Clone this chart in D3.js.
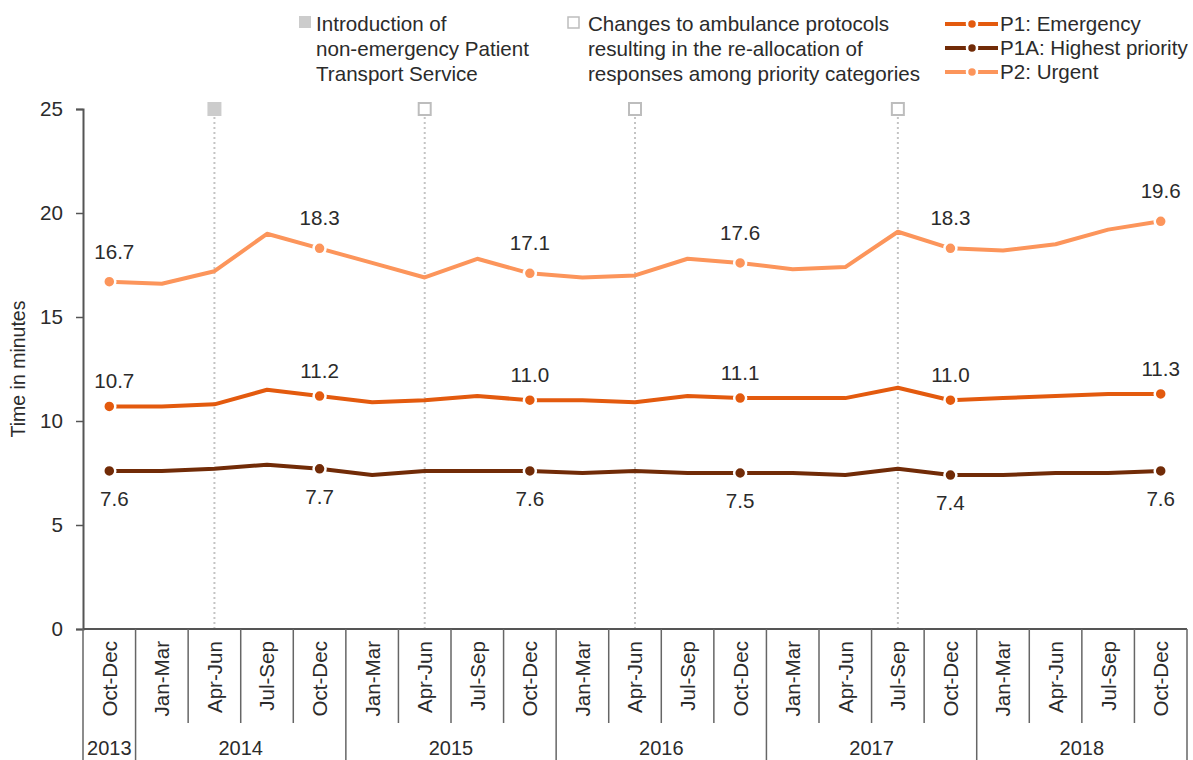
<!DOCTYPE html>
<html>
<head>
<meta charset="utf-8">
<script src="https://cdn.jsdelivr.net/npm/d3@7"></script>
<style>
  body { margin: 0; background: #fff; }
  svg text { font-family: "Liberation Sans", Arial, sans-serif; fill: #2b2b2b; }
</style>
</head>
<body>
<div id="chart"></div>
<script>
// Quarters along the x axis, with the year each belongs to
const quarterLabels = ["Oct-Dec",
  "Jan-Mar", "Apr-Jun", "Jul-Sep", "Oct-Dec",
  "Jan-Mar", "Apr-Jun", "Jul-Sep", "Oct-Dec",
  "Jan-Mar", "Apr-Jun", "Jul-Sep", "Oct-Dec",
  "Jan-Mar", "Apr-Jun", "Jul-Sep", "Oct-Dec",
  "Jan-Mar", "Apr-Jun", "Jul-Sep", "Oct-Dec"];
const quarterYears = ["2013",
  "2014", "2014", "2014", "2014",
  "2015", "2015", "2015", "2015",
  "2016", "2016", "2016", "2016",
  "2017", "2017", "2017", "2017",
  "2018", "2018", "2018", "2018"];

// Response times in minutes
const p1 = [10.7, 10.7, 10.8, 11.5, 11.2, 10.9, 11.0, 11.2, 11.0, 11.0, 10.9,
  11.2, 11.1, 11.1, 11.1, 11.6, 11.0, 11.1, 11.2, 11.3, 11.3];
const p1a = [7.6, 7.6, 7.7, 7.9, 7.7, 7.4, 7.6, 7.6, 7.6, 7.5, 7.6,
  7.5, 7.5, 7.5, 7.4, 7.7, 7.4, 7.4, 7.5, 7.5, 7.6];
const p2 = [16.7, 16.6, 17.2, 19.0, 18.3, 17.6, 16.9, 17.8, 17.1, 16.9, 17.0,
  17.8, 17.6, 17.3, 17.4, 19.1, 18.3, 18.2, 18.5, 19.2, 19.6];

const seriesNames = ["P1: Emergency", "P1A: Highest priority", "P2: Urgent"];
const yTicks = [0, 5, 10, 15, 20, 25];

// Points that get a value label
const labelled = [0, 4, 8, 12, 16, 20];

// Event markers: quarter index and kind
const eventIdx = [2, 6, 10, 15];
const eventKind = ["pts", "protocol", "protocol", "protocol"];
const eventNotes = [
  ["Introduction of", "non-emergency Patient", "Transport Service"],
  ["Changes to ambulance protocols", "resulting in the re-allocation of", "responses among priority categories"]
];

const colors = ["#e35a0e", "#712b07", "#fc955b"];
const FS = "20.6px";

const W = 1193, H = 760;
const margin = { left: 83, right: 6, top: 109, bottom: 131 };

const svg = d3.select("#chart").append("svg")
  .attr("width", W).attr("height", H);

const x = d3.scaleBand()
  .domain(d3.range(quarterLabels.length))
  .range([margin.left, W - margin.right]);
const y = d3.scaleLinear()
  .domain([0, 25])
  .range([H - margin.bottom, margin.top]);

const cx = i => x(i) + x.bandwidth() / 2;
const y0 = y(0);

// event dotted lines and markers
eventIdx.forEach((idx, k) => {
  svg.append("line")
    .attr("x1", cx(idx)).attr("x2", cx(idx))
    .attr("y1", y(25) + 8).attr("y2", y0)
    .attr("stroke", "#c4c4c4")
    .attr("stroke-width", 2)
    .attr("stroke-dasharray", "2,3");
  const filled = eventKind[k] === "pts";
  svg.append("rect")
    .attr("x", cx(idx) - (filled ? 7 : 6)).attr("y", y(25) - (filled ? 7 : 6))
    .attr("width", filled ? 14 : 12).attr("height", filled ? 14 : 12)
    .attr("fill", filled ? "#cccccc" : "#fff")
    .attr("stroke", filled ? "none" : "#bdbdbd")
    .attr("stroke-width", 2);
});

// y axis
const yAxisG = svg.append("g")
  .attr("transform", `translate(${margin.left},0)`)
  .call(d3.axisLeft(y).tickValues(yTicks).tickSize(7).tickPadding(13));
yAxisG.select(".domain").attr("stroke", "#555").attr("stroke-width", 2);
yAxisG.selectAll(".tick line").attr("stroke", "#555").attr("stroke-width", 1.5);
yAxisG.selectAll(".tick text")
  .style("font-size", FS)
  .style("font-family", "Liberation Sans, Arial, sans-serif")
  .attr("fill", "#2b2b2b");

svg.append("text")
  .attr("transform", `translate(25,${(y(0) + y(25)) / 2}) rotate(-90)`)
  .attr("text-anchor", "middle")
  .style("font-size", "19.5px")
  .text("Time in minutes");

// x axis: baseline, quarter separators, year separators
svg.append("line")
  .attr("x1", margin.left).attr("x2", W - margin.right)
  .attr("y1", y0).attr("y2", y0)
  .attr("stroke", "#555").attr("stroke-width", 2);

const bounds = d3.range(quarterLabels.length + 1);
svg.selectAll(".qsep")
  .data(bounds)
  .join("line")
  .attr("class", "qsep")
  .attr("x1", i => margin.left + i * x.step())
  .attr("x2", i => margin.left + i * x.step())
  .attr("y1", y0)
  .attr("y2", i => (i === 0 || i === quarterLabels.length || quarterYears[i] !== quarterYears[i - 1]) ? H : y0 + 94)
  .attr("stroke", "#666")
  .attr("stroke-width", 1.5);

svg.selectAll(".qlabel")
  .data(quarterLabels)
  .join("text")
  .attr("class", "qlabel")
  .attr("transform", (d, i) => `translate(${cx(i)},${y0 + 12}) rotate(-90)`)
  .attr("text-anchor", "end")
  .attr("dy", "0.36em")
  .style("font-size", FS)
  .text(d => d);

const yearGroups = d3.groups(quarterYears.map((yr, i) => ({ yr, i })), d => d.yr);
svg.selectAll(".ylabel")
  .data(yearGroups)
  .join("text")
  .attr("class", "ylabel")
  .attr("x", d => (cx(d[1][0].i) + cx(d[1][d[1].length - 1].i)) / 2)
  .attr("y", H - 5)
  .attr("text-anchor", "middle")
  .style("font-size", "20px")
  .text(d => d[0]);

// series lines and points
const series = [p1, p1a, p2];
const line = d3.line().x((d, i) => cx(i)).y(d => y(d));

series.forEach((vals, s) => {
  svg.append("path")
    .datum(vals)
    .attr("d", line)
    .attr("fill", "none")
    .attr("stroke", colors[s])
    .attr("stroke-width", 4)
    .attr("stroke-linejoin", "round");

  svg.selectAll(".pt" + s)
    .data(labelled)
    .join("circle")
    .attr("class", "pt" + s)
    .attr("cx", i => cx(i))
    .attr("cy", i => y(vals[i]))
    .attr("r", 6)
    .attr("fill", colors[s])
    .attr("stroke", "#fff")
    .attr("stroke-width", 2.5);

  // P1A labels go underneath, others above
  const dy = s === 1 ? 35 : (s === 2 ? -23 : -18);
  svg.selectAll(".vl" + s)
    .data(labelled)
    .join("text")
    .attr("class", "vl" + s)
    .attr("x", i => cx(i) + (i === 0 ? 5 : 0))
    .attr("y", i => y(vals[i]) + dy)
    .attr("text-anchor", "middle")
    .style("font-size", FS)
    .text(i => vals[i].toFixed(1));
});

// series legend, top right
const legend = svg.append("g").attr("transform", "translate(945,24)");
seriesNames.forEach((name, s) => {
  const g = legend.append("g").attr("transform", `translate(0,${s * 24})`);
  g.append("line").attr("x1", 0).attr("x2", 53)
    .attr("stroke", colors[s]).attr("stroke-width", 4);
  g.append("circle").attr("cx", 27).attr("r", 5)
    .attr("fill", colors[s]).attr("stroke", "#fff").attr("stroke-width", 2.5);
  g.append("text").attr("x", 55).attr("dy", "0.36em")
    .style("font-size", FS).text(name);
});

// event notes
const noteSq = [299, 567];
const noteX = [316, 588];
eventNotes.forEach((lines, k) => {
  const filled = k === 0;
  svg.append("rect")
    .attr("x", noteSq[k] + (filled ? 0 : 1)).attr("y", filled ? 16 : 17)
    .attr("width", filled ? 12 : 11).attr("height", filled ? 12 : 11)
    .attr("fill", filled ? "#cccccc" : "#fff")
    .attr("stroke", filled ? "none" : "#bdbdbd")
    .attr("stroke-width", 1.5);
  svg.append("text")
    .attr("x", noteX[k])
    .attr("y", 31)
    .style("font-size", FS)
    .attr("fill", "#333")
    .selectAll("tspan")
    .data(lines)
    .join("tspan")
    .attr("x", noteX[k])
    .attr("dy", (d, i) => i === 0 ? 0 : 25)
    .text(d => d);
});
</script>
</body>
</html>
